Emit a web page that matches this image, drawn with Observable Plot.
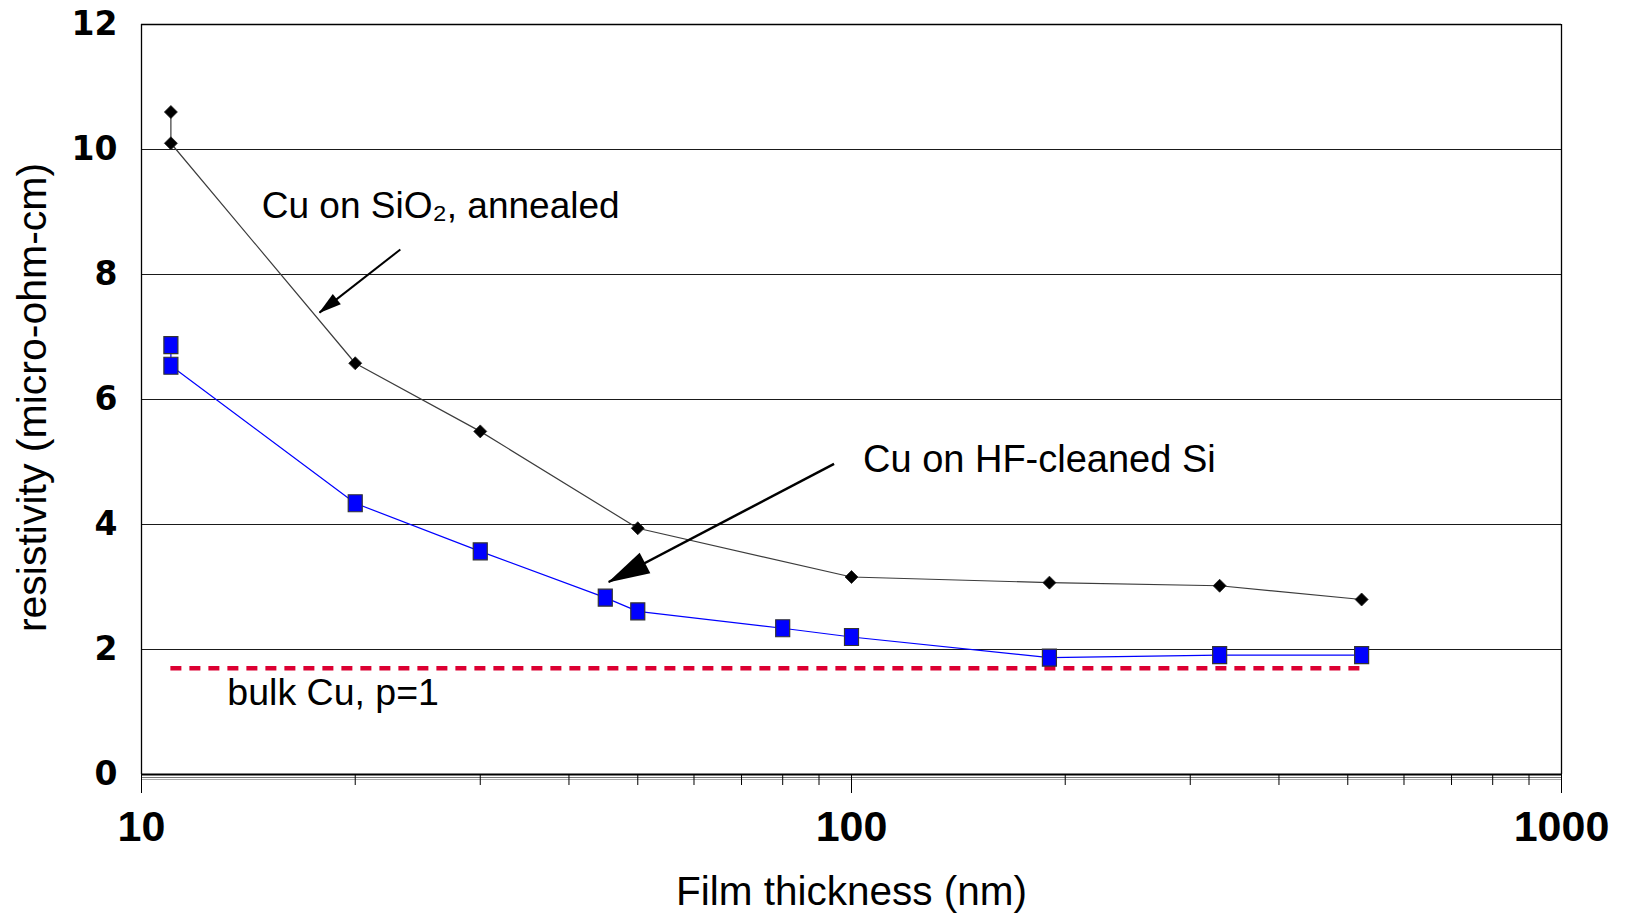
<!DOCTYPE html>
<html>
<head>
<meta charset="utf-8">
<script src="https://cdn.jsdelivr.net/npm/d3@7"></script>
<script src="https://cdn.jsdelivr.net/npm/@observablehq/plot@0.6"></script>
<style>
  html, body { margin: 0; padding: 0; background: #fff; }
  #chart svg { display: block; }
</style>
</head>
<body>
<div id="chart"></div>
<script>
// ---- data ----
const sio2Thickness   = [11, 11, 20, 30, 50, 100, 190, 330, 523];
const sio2Resistivity = [10.6, 10.1, 6.58, 5.49, 3.94, 3.16, 3.07, 3.02, 2.80];

const hfThickness   = [11, 11, 20, 30, 45, 50, 80, 100, 190, 330, 523];
const hfResistivity = [6.87, 6.54, 4.34, 3.57, 2.83, 2.61, 2.34, 2.20, 1.87, 1.91, 1.91];

const bulkResistivity = 1.7;
const bulkRange = [11, 523];

const yTicks = [0, 2, 4, 6, 8, 10, 12];
const gridValues = [2, 4, 6, 8, 10];
const xMajorTicks = [10, 100, 1000];
const xMinorTicks = [20, 30, 40, 50, 60, 70, 80, 90, 200, 300, 400, 500, 600, 700, 800, 900];

const annotationTexts = ["Cu on SiO\u2082, annealed", "Cu on HF-cleaned Si", "bulk Cu, p=1"];
const annotationX = [14.77, 103.8, 13.21];
const annotationY = [9.09, 5.04, 1.31];

const arrowFromX = [23.15, 94.5];
const arrowFromY = [8.40, 4.97];
const arrowToX   = [17.81, 45.5];
const arrowToY   = [7.39, 3.08];

const xTitle = "Film thickness (nm)";
const yTitle = "resistivity (micro-ohm-cm)";

// ---- derived tables ----
const sio2 = sio2Thickness.map((t, i) => ({t, r: sio2Resistivity[i]}));
const hf = hfThickness.map((t, i) => ({t, r: hfResistivity[i]}));
const bulk = [{y: bulkResistivity, x1: bulkRange[0], x2: bulkRange[1]}];
const notes = annotationTexts.map((text, i) => ({text, x: annotationX[i], y: annotationY[i]}));
const arrows = arrowFromX.map((x1, i) => ({x1, y1: arrowFromY[i], x2: arrowToX[i], y2: arrowToY[i]}));

const svgns = "http://www.w3.org/2000/svg";
function arrowMarker(len, wid) {
  return (color, context) => {
    const doc = (context && context.document) || document;
    const m = doc.createElementNS(svgns, "marker");
    m.setAttribute("markerUnits", "userSpaceOnUse");
    m.setAttribute("orient", "auto");
    m.setAttribute("markerWidth", 2 * len);
    m.setAttribute("markerHeight", 2 * len);
    m.setAttribute("viewBox", `${-len} ${-len} ${2 * len} ${2 * len}`);
    m.setAttribute("refX", 0);
    m.setAttribute("refY", 0);
    m.setAttribute("overflow", "visible");
    const p = doc.createElementNS(svgns, "path");
    p.setAttribute("d", `M1,0L${-len},${-wid / 2}L${-len},${wid / 2}Z`);
    p.setAttribute("fill", "black");
    p.setAttribute("stroke", "none");
    m.appendChild(p);
    return m;
  };
}

const rectSymbol = {draw(ctx) { ctx.rect(-7, -8.5, 14, 17); }};
const diamondSymbol = {draw(ctx) { ctx.moveTo(0, -6.5); ctx.lineTo(6.5, 0); ctx.lineTo(0, 6.5); ctx.lineTo(-6.5, 0); ctx.closePath(); }};

const chart = Plot.plot({
  width: 1629,
  height: 914,
  marginLeft: 141,
  marginRight: 68,
  marginTop: 24,
  marginBottom: 140,
  style: {background: "white", color: "black", fontFamily: "'Liberation Sans', Arial, sans-serif"},
  x: {type: "log", domain: [10, 1000], axis: null},
  y: {domain: [0, 12], axis: null},
  marks: [
    Plot.ruleY(gridValues, {stroke: "#1a1a1a", strokeWidth: 1}),
    Plot.ruleY([12], {stroke: "black", strokeWidth: 1.3}),
    Plot.ruleX([10, 1000], {stroke: "black", strokeWidth: 1.3}),
    Plot.ruleY([0], {stroke: "#aaa", strokeWidth: 1.2, dy: 5}),
    Plot.ruleY([0], {stroke: "#777", strokeWidth: 1.2, dy: 3}),
    Plot.ruleY([0], {stroke: "black", strokeWidth: 1.8}),
    Plot.ruleY(bulk, {y: "y", x1: "x1", x2: "x2", stroke: "#dc0032", strokeWidth: 4.3, strokeDasharray: "11,8"}),
    Plot.line(sio2, {x: "t", y: "r", stroke: "#3c3c3c", strokeWidth: 1.2}),
    Plot.line(hf, {x: "t", y: "r", stroke: "#0000ff", strokeWidth: 1.2}),
    Plot.dot(sio2, {x: "t", y: "r", symbol: diamondSymbol, fill: "black", stroke: "#222", strokeWidth: 0.8, r: 6}),
    Plot.dot(hf, {x: "t", y: "r", symbol: rectSymbol, fill: "#0000ff", stroke: "#333", strokeWidth: 1.2, r: 8}),
    Plot.link([arrows[0]], {x1: "x1", y1: "y1", x2: "x2", y2: "y2", stroke: "black", strokeWidth: 2, markerEnd: arrowMarker(22, 13)}),
    Plot.link([arrows[1]], {x1: "x1", y1: "y1", x2: "x2", y2: "y2", stroke: "black", strokeWidth: 2.5, markerEnd: arrowMarker(41, 23)}),
    Plot.text(notes.slice(0, 1), {x: "x", y: "y", text: "text", textAnchor: "start", lineAnchor: "middle", fontSize: 37, fill: "black"}),
    Plot.text(notes.slice(1, 2), {x: "x", y: "y", text: "text", textAnchor: "start", lineAnchor: "middle", fontSize: 38, fill: "black"}),
    Plot.text(notes.slice(2, 3), {x: "x", y: "y", text: "text", textAnchor: "start", lineAnchor: "middle", fontSize: 37.5, fill: "black"}),
    Plot.axisY({ticks: yTicks, tickSize: 0, tickPadding: 24, label: null, fontSize: 33, fontWeight: "bold", fontFamily: "'DejaVu Sans', sans-serif"}),
    Plot.axisX({ticks: xMajorTicks, tickSize: 19, tickPadding: 17, tickFormat: d => String(d), label: null, fontSize: 43, fontWeight: "bold", fontFamily: "'Liberation Sans', Arial, sans-serif"}),
    Plot.axisX({ticks: xMinorTicks, tickSize: 11, tickFormat: () => "", label: null}),
    Plot.text([yTitle], {frameAnchor: "left", dx: -109, dy: -2, rotate: -90, text: d => d, fontSize: 41, fill: "black", lineAnchor: "middle", textAnchor: "middle"}),
    Plot.text([xTitle], {frameAnchor: "bottom", dy: 118, text: d => d, fontSize: 40.5, fill: "black", lineAnchor: "middle", textAnchor: "middle"})
  ]
});
document.getElementById("chart").appendChild(chart);
</script>
</body>
</html>
